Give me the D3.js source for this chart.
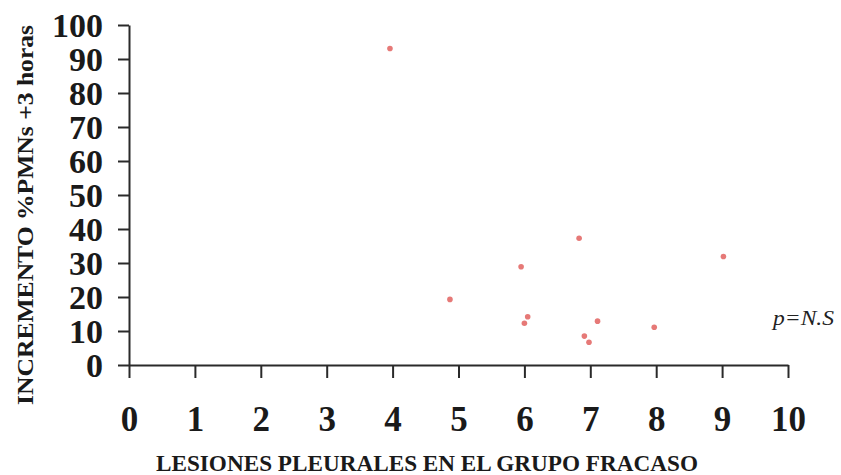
<!DOCTYPE html>
<html>
<head>
<meta charset="utf-8">
<script src="https://cdn.jsdelivr.net/npm/d3@7"></script>
<style>
  body { margin: 0; background: #fff; }
  svg { display: block; }
  .axis path, .axis line { stroke: #2a2a2a; stroke-width: 2px; }
  .axis text { font-family: "Liberation Serif", "Times New Roman", Times, Tinos, serif; font-weight: bold; fill: #1a1a1a; }
</style>
</head>
<body>
<div id="chart"></div>
<script>
(function () {

    // lesiones pleurales (x) vs incremento %PMNs +3 horas (y)
    var lesiones = [3.96, 4.87, 5.95, 6.0, 6.05, 6.83, 6.91, 6.98, 7.11, 7.97, 9.02],
        incremento = [93.1, 19.3, 28.9, 12.3, 14.2, 37.3, 8.5, 6.7, 12.9, 11.1, 31.9],
        xTicks = [0, 1, 2, 3, 4, 5, 6, 7, 8, 9, 10],
        yTicks = [0, 10, 20, 30, 40, 50, 60, 70, 80, 90, 100];

    var width = 841,
        height = 475,
        serif = '"Liberation Serif", "Times New Roman", Times, Tinos, serif';

    var svg = d3.select("#chart").append("svg")
        .attr("width", width)
        .attr("height", height);

    var x = d3.scaleLinear().domain([0, 10]).range([129, 788]),
        y = d3.scaleLinear().domain([0, 100]).range([365, 25]);

    // y axis
    var gy = svg.append("g")
        .attr("class", "axis")
        .attr("transform", "translate(" + x(0) + ",0)")
        .call(d3.axisLeft(y).tickValues(yTicks).tickSize(11).tickSizeOuter(0).tickPadding(15));
    gy.selectAll("text")
        .style("font-size", "34px")
        .attr("dy", "0.34em");

    // x axis
    var gx = svg.append("g")
        .attr("class", "axis")
        .attr("transform", "translate(0," + y(0) + ")")
        .call(d3.axisBottom(x).tickValues(xTicks).tickSize(13).tickSizeOuter(0));
    gx.selectAll("text")
        .style("font-size", "35px")
        .attr("y", 54)
        .attr("dy", "0.34em");

    // points
    svg.append("g").selectAll("circle")
        .data(lesiones)
        .enter().append("circle")
        .attr("cx", function (d) { return x(d); })
        .attr("cy", function (d, i) { return y(incremento[i]); })
        .attr("r", 2.8)
        .style("fill", "#e2625f")
        .style("fill-opacity", 0.85);

    // axis titles
    svg.append("text")
        .attr("transform", "translate(33,215) rotate(-90)")
        .attr("text-anchor", "middle")
        .attr("textLength", 380)
        .attr("lengthAdjust", "spacingAndGlyphs")
        .style("font-family", serif)
        .style("font-weight", "bold")
        .style("font-size", "23px")
        .style("fill", "#1a1a1a")
        .text("INCREMENTO %PMNs +3 horas");

    svg.append("text")
        .attr("x", 427)
        .attr("y", 471)
        .attr("text-anchor", "middle")
        .attr("textLength", 542)
        .attr("lengthAdjust", "spacingAndGlyphs")
        .style("font-family", serif)
        .style("font-weight", "bold")
        .style("font-size", "23px")
        .style("fill", "#1a1a1a")
        .text("LESIONES PLEURALES EN EL GRUPO FRACASO");

    svg.append("text")
        .attr("x", 773)
        .attr("y", 325)
        .attr("textLength", 61)
        .attr("lengthAdjust", "spacingAndGlyphs")
        .style("font-family", serif)
        .style("font-style", "italic")
        .style("font-size", "20px")
        .style("fill", "#222")
        .text("p=N.S");

}());
</script>
</body>
</html>
